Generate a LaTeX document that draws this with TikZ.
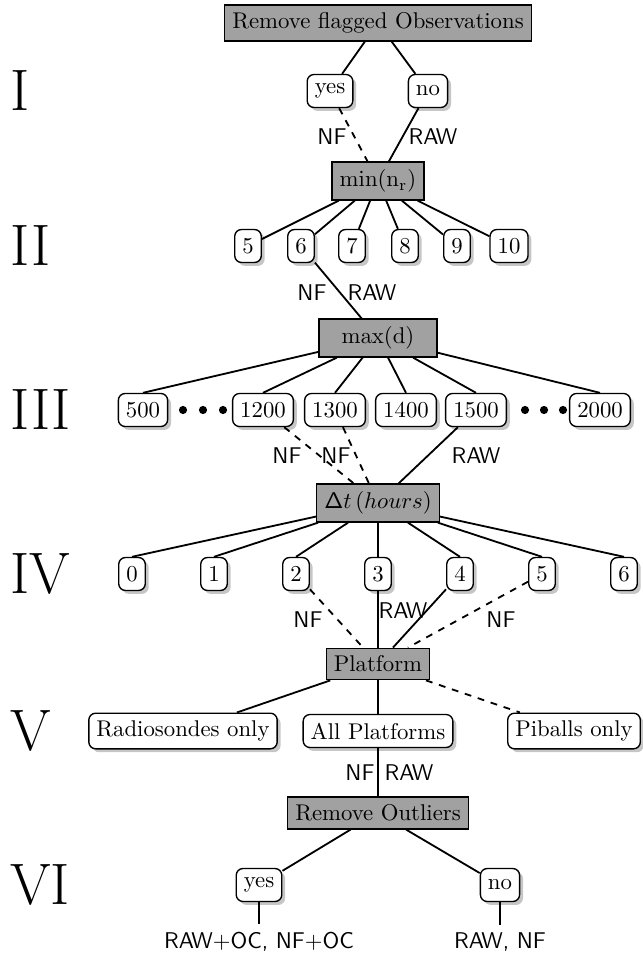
\documentclass[tikz,border=0pt]{standalone}
\usepackage{amsmath}
\usetikzlibrary{shadows}

\begin{document}
\begin{tikzpicture}[x=0.4394pt, y=-0.4394pt,
    test/.style={draw, semithick, fill=black!37, rectangle},
    leaf/.style={draw, semithick, fill=white, rounded corners=3pt, minimum height=14.5pt,
        drop shadow={opacity=0.45, shadow xshift=1.5pt, shadow yshift=-1.5pt}},
    lbl/.style={font=\sffamily},
    level/.style={anchor=west, inner sep=0pt, font=\fontsize{25.7}{30}\selectfont},
    link/.style={thick},
    nolink/.style={thick, dashed}]
    \useasboundingbox (0,0) rectangle (643,956);

    % Levels
    \node[level] (lI) at (10,91) {I};
    \node[level] (lII) at (10,246) {II};
    \node[level] (lIII) at (10,410) {III};
    \node[level] (lIV) at (10,574) {IV};
    \node[level] (lV) at (10,731) {V};
    \node[level] (lVI) at (10,885) {VI};

    % I : flagged observations
    \node[test] (flag) at (378,23) {Remove flagged Observations};
    \node[leaf] (fyes) at (330,91) {yes};
    \node[leaf] (fno) at (428,91) {no};
    \draw[link] (flag) -- (fyes);
    \draw[link] (flag) -- (fno);

    % II : min(n_r)
    \node[test] (minr) at (378,181) {$\mathrm{min}(\mathrm{n}_\mathrm{r})$};
    \draw[nolink] (fyes) -- (minr);
    \draw[link] (fno) -- (minr);
    \node[lbl] at (332,137) {NF};
    \node[lbl] at (433,137) {RAW};
    \foreach \v/\x in {5/248,6/301,7/352,8/405,9/457,10/509} {
        \node[leaf] (n\v) at (\x,246) {\v};
        \draw[link] (minr) -- (n\v);
    }

    % III : max(d)
    \node[test, minimum width=52pt] (maxd) at (378,338) {$\mathrm{max(d)}$};
    \draw[link] (n6) -- (maxd);
    \node[lbl] at (312,293) {NF};
    \node[lbl] at (372,293) {RAW};
    \foreach \v/\x in {500/143,1200/263,1300/335,1400/406,1500/476,2000/600} {
        \node[leaf] (d\v) at (\x,410) {\v};
        \draw[link] (maxd) -- (d\v.north);
    }
    \foreach \x in {183,203,223,525,544,563}
        \fill (\x,410) circle (1.8pt);

    % IV : time window
    \node[test] (dt) at (378,503) {$\mathsf{\Delta} t\,(hours)$};
    \draw[nolink] (d1200) -- (dt);
    \draw[nolink] (d1300) -- (dt);
    \draw[link] (d1500) -- (dt);
    \node[lbl] at (287,456) {NF};
    \node[lbl] at (336,456) {NF};
    \node[lbl] at (476,456) {RAW};
    \foreach \v in {0,...,6} {
        \node[leaf] (h\v) at (132+82*\v,574) {\v};
        \draw[link] (dt) -- (h\v.north);
    }

    % V : platform
    \node[test] (plat) at (378,664) {Platform};
    \draw[nolink] (h2) -- (plat);
    \draw[link] (h3) -- (plat);
    \draw[link] (h4) -- (plat);
    \draw[nolink] (h5) -- (plat);
    \node[lbl] at (308,620) {NF};
    \node[lbl] at (403,611) {RAW};
    \node[lbl] at (501,620) {NF};
    \node[leaf] (radio) at (183,731) {Radiosondes only};
    \node[leaf] (allp) at (378,731) {All Platforms};
    \node[leaf] (pib) at (574,731) {Piballs only};
    \draw[link] (plat) -- (radio);
    \draw[link] (plat) -- (allp);
    \draw[nolink] (plat) -- (pib);

    % VI : outliers
    \node[test] (outl) at (378,813) {Remove Outliers};
    \draw[link] (allp) -- (outl);
    \node[lbl] at (360,773) {NF};
    \node[lbl] at (409,773) {RAW};
    \node[leaf] (oyes) at (259,885) {yes};
    \node[leaf] (ono) at (500,885) {no};
    \draw[link] (outl) -- (oyes);
    \draw[link] (outl) -- (ono);
    \node[lbl] (resyes) at (259,942) {RAW+OC, NF+OC};
    \node[lbl] (resno) at (500,942) {RAW, NF};
    \draw[link] (oyes) -- (resyes);
    \draw[link] (ono) -- (resno);
\end{tikzpicture}
\end{document}
